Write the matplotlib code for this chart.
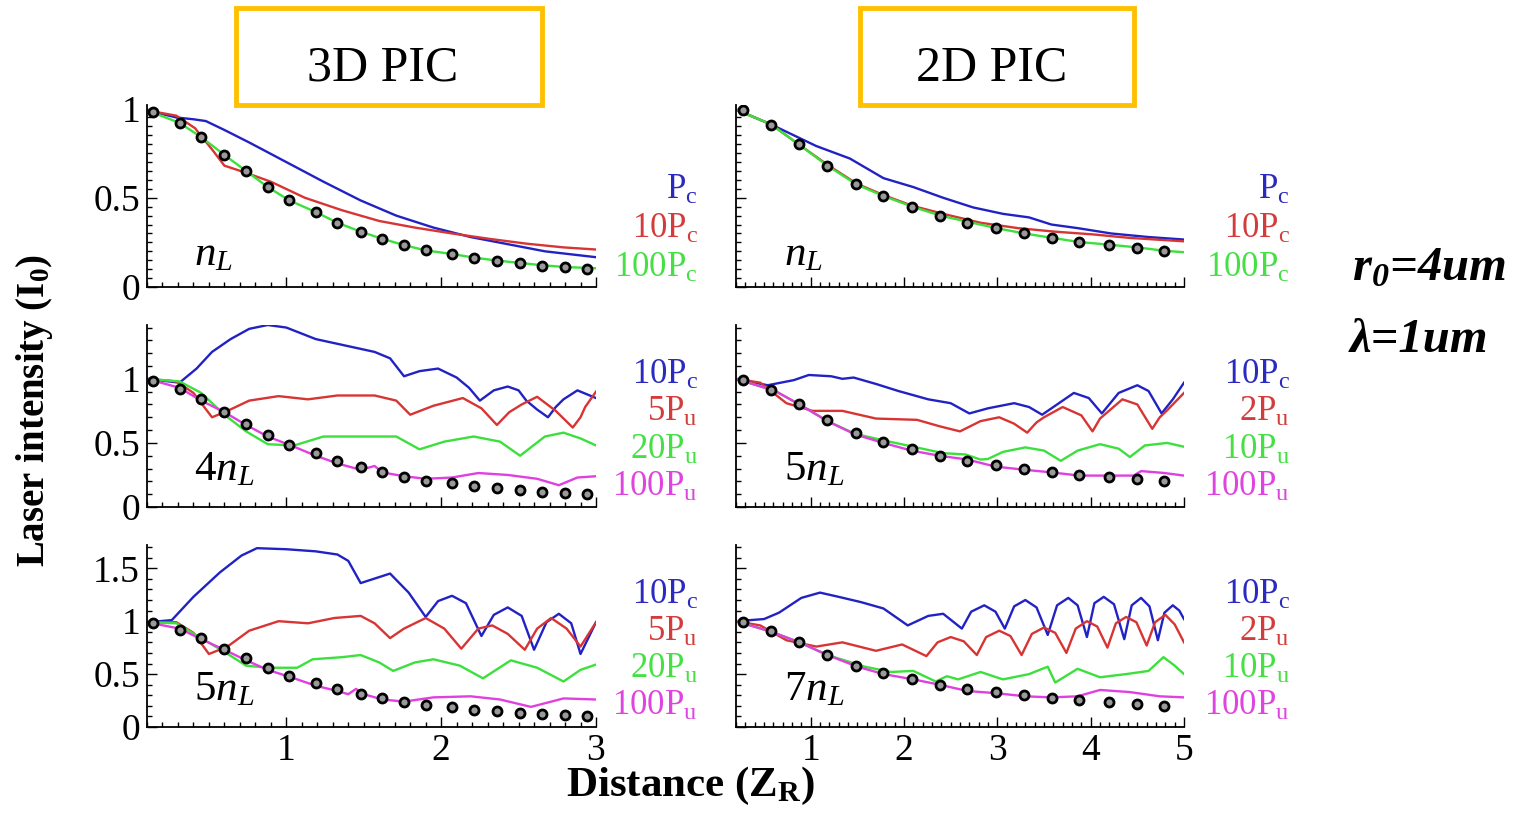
import matplotlib
matplotlib.use("Agg")
import matplotlib.pyplot as plt
from matplotlib.patches import Rectangle
from matplotlib.ticker import MultipleLocator

plt.rcParams["font.family"] = "serif"
plt.rcParams["font.serif"] = ["Liberation Serif", "DejaVu Serif"]
plt.rcParams["mathtext.fontset"] = "custom"
plt.rcParams["mathtext.rm"] = "Liberation Serif"
plt.rcParams["mathtext.it"] = "Liberation Serif:italic"
plt.rcParams["mathtext.bf"] = "Liberation Serif:bold"

# ---------------- data ----------------
# vacuum diffraction reference (dots)
x3_vac = [0.14, 0.31, 0.45, 0.60, 0.74, 0.88, 1.02, 1.19, 1.33, 1.48,
          1.62, 1.76, 1.90, 2.07, 2.21, 2.36, 2.51, 2.65, 2.80, 2.94]
i3_vac = [0.98, 0.92, 0.84, 0.74, 0.65, 0.56, 0.485, 0.42, 0.36, 0.31,
          0.27, 0.235, 0.205, 0.185, 0.165, 0.148, 0.135, 0.12, 0.11, 0.10]
x2_vac = [0.27, 0.58, 0.87, 1.18, 1.49, 1.78, 2.09, 2.39, 2.68, 2.99,
          3.29, 3.59, 3.88, 4.20, 4.50, 4.79]
i2_vac = [0.99, 0.91, 0.80, 0.68, 0.575, 0.51, 0.45, 0.40, 0.36, 0.33,
          0.30, 0.275, 0.252, 0.235, 0.22, 0.203]

# 3D PIC, n_L
x3a_pc = [0.10, 0.29, 0.40, 0.48, 0.60, 0.76, 1.00, 1.24, 1.48, 1.71, 1.95, 2.19, 2.43, 2.67, 3.00]
i3a_pc = [0.99, 0.95, 0.94, 0.93, 0.88, 0.81, 0.70, 0.59, 0.485, 0.40, 0.333, 0.28, 0.24, 0.20, 0.167]
x3a_10pc = [0.10, 0.29, 0.41, 0.53, 0.60, 0.74, 0.90, 1.12, 1.36, 1.60, 1.83, 2.07, 2.31, 2.55, 2.79, 3.00]
i3a_10pc = [0.99, 0.96, 0.89, 0.76, 0.68, 0.64, 0.59, 0.50, 0.43, 0.37, 0.333, 0.30, 0.27, 0.243, 0.222, 0.21]
x3a_100pc = [0.10, 0.31, 0.45, 0.60, 0.74, 0.88, 1.02, 1.19, 1.33, 1.48, 1.62, 1.76, 1.90,
             2.07, 2.21, 2.36, 2.51, 2.65, 2.80, 3.00]
i3a_100pc = [0.99, 0.92, 0.84, 0.74, 0.65, 0.56, 0.485, 0.42, 0.36, 0.31, 0.27, 0.235, 0.205,
             0.185, 0.165, 0.148, 0.135, 0.122, 0.112, 0.105]

# 3D PIC, 4 n_L
x3b_10pc = [0.10, 0.31, 0.42, 0.52, 0.64, 0.76, 0.88, 1.00, 1.19, 1.38, 1.57, 1.67, 1.76, 1.86,
            1.98, 2.10, 2.18, 2.25, 2.34, 2.43, 2.50, 2.55, 2.62, 2.69, 2.74, 2.79, 2.88, 3.00]
i3b_10pc = [1.00, 0.97, 1.08, 1.21, 1.31, 1.39, 1.42, 1.40, 1.31, 1.26, 1.21, 1.16, 1.02, 1.06,
            1.08, 1.01, 0.93, 0.83, 0.91, 0.94, 0.91, 0.83, 0.76, 0.70, 0.78, 0.84, 0.91, 0.85]
x3b_5pu = [0.10, 0.29, 0.40, 0.52, 0.62, 0.76, 0.95, 1.14, 1.33, 1.57, 1.71, 1.80, 1.95, 2.14,
           2.26, 2.36, 2.44, 2.52, 2.62, 2.74, 2.85, 2.90, 2.93, 3.00]
i3b_5pu = [1.00, 0.98, 0.89, 0.70, 0.75, 0.83, 0.865, 0.84, 0.87, 0.87, 0.83, 0.72, 0.79, 0.85,
           0.77, 0.64, 0.74, 0.80, 0.86, 0.75, 0.62, 0.70, 0.78, 0.90]
x3b_20pu = [0.10, 0.31, 0.45, 0.60, 0.74, 0.88, 1.05, 1.24, 1.48, 1.71, 1.86, 2.02, 2.21, 2.38,
            2.51, 2.67, 2.79, 2.90, 3.00]
i3b_20pu = [1.00, 0.98, 0.89, 0.72, 0.59, 0.49, 0.48, 0.55, 0.55, 0.55, 0.45, 0.51, 0.55, 0.51,
            0.40, 0.55, 0.58, 0.535, 0.48]
x3b_100pu = [0.10, 0.31, 0.45, 0.60, 0.74, 0.88, 1.05, 1.19, 1.33, 1.48, 1.57, 1.62, 1.76, 1.90,
             2.07, 2.24, 2.43, 2.62, 2.76, 2.88, 3.00]
i3b_100pu = [1.00, 0.93, 0.83, 0.74, 0.64, 0.55, 0.47, 0.40, 0.34, 0.29, 0.32, 0.27, 0.24, 0.22,
             0.23, 0.265, 0.25, 0.22, 0.17, 0.23, 0.24]

# 3D PIC, 5 n_L
x3c_10pc = [0.10, 0.26, 0.40, 0.57, 0.71, 0.81, 1.00, 1.19, 1.33, 1.40, 1.48, 1.67, 1.79, 1.90,
            1.98, 2.07, 2.16, 2.26, 2.34, 2.43, 2.52, 2.60, 2.68, 2.76, 2.84, 2.90, 3.00]
i3c_10pc = [0.99, 1.01, 1.23, 1.46, 1.62, 1.69, 1.68, 1.66, 1.63, 1.57, 1.36, 1.45, 1.27, 1.04,
            1.19, 1.24, 1.17, 0.86, 1.06, 1.13, 1.05, 0.73, 0.99, 1.07, 0.98, 0.69, 0.99]
x3c_5pu = [0.10, 0.29, 0.40, 0.50, 0.62, 0.76, 0.95, 1.14, 1.31, 1.48, 1.57, 1.67, 1.76, 1.90,
           2.02, 2.13, 2.24, 2.33, 2.43, 2.54, 2.62, 2.71, 2.81, 2.90, 3.00]
i3c_5pu = [0.99, 0.99, 0.89, 0.69, 0.76, 0.91, 1.00, 0.98, 1.03, 1.05, 0.98, 0.84, 0.93, 1.03,
           0.93, 0.74, 0.93, 0.96, 0.88, 0.73, 0.93, 1.03, 0.93, 0.76, 0.99]
x3c_20pu = [0.10, 0.29, 0.45, 0.60, 0.74, 0.88, 1.07, 1.17, 1.36, 1.48, 1.60, 1.69, 1.83, 1.95,
            2.12, 2.27, 2.45, 2.62, 2.79, 2.90, 3.00]
i3c_20pu = [0.99, 0.98, 0.84, 0.71, 0.58, 0.56, 0.56, 0.64, 0.66, 0.68, 0.61, 0.53, 0.61, 0.64,
            0.58, 0.46, 0.63, 0.56, 0.43, 0.54, 0.59]
x3c_100pu = [0.10, 0.31, 0.45, 0.60, 0.74, 0.88, 1.05, 1.19, 1.33, 1.40, 1.45, 1.50, 1.62, 1.76,
             1.95, 2.19, 2.38, 2.58, 2.79, 3.00]
i3c_100pu = [0.99, 0.93, 0.83, 0.73, 0.63, 0.54, 0.46, 0.39, 0.34, 0.31, 0.36, 0.31, 0.26, 0.24,
             0.28, 0.29, 0.26, 0.19, 0.27, 0.26]

# 2D PIC, n_L
x2a_pc = [0.22, 0.58, 0.82, 1.06, 1.42, 1.78, 2.10, 2.42, 2.74, 3.06, 3.34, 3.58, 3.86, 4.22, 4.62, 5.00]
i2a_pc = [0.99, 0.91, 0.85, 0.79, 0.72, 0.61, 0.56, 0.50, 0.446, 0.41, 0.39, 0.35, 0.33, 0.30, 0.28, 0.266]
x2a_10pc = [0.22, 0.58, 0.87, 1.18, 1.49, 1.78, 2.09, 2.42, 2.82, 3.22, 3.62, 4.02, 4.42, 5.00]
i2a_10pc = [0.99, 0.91, 0.80, 0.685, 0.58, 0.515, 0.455, 0.41, 0.36, 0.33, 0.31, 0.295, 0.275, 0.256]
x2a_100pc = [0.22, 0.58, 0.87, 1.18, 1.49, 1.78, 2.09, 2.39, 2.68, 2.99, 3.29, 3.59, 3.88, 4.20,
             4.50, 4.79, 5.00]
i2a_100pc = [0.99, 0.91, 0.80, 0.68, 0.575, 0.51, 0.45, 0.40, 0.366, 0.33, 0.30, 0.275, 0.252,
             0.237, 0.222, 0.203, 0.195]

# 2D PIC, 5 n_L
x2b_10pc = [0.20, 0.54, 0.82, 0.98, 1.22, 1.34, 1.46, 1.70, 1.94, 2.26, 2.50, 2.70, 2.90, 3.18,
            3.34, 3.48, 3.62, 3.82, 3.98, 4.12, 4.30, 4.50, 4.62, 4.76, 4.88, 5.00]
i2b_10pc = [1.00, 0.95, 0.99, 1.03, 1.02, 1.00, 1.01, 0.96, 0.905, 0.84, 0.81, 0.73, 0.77, 0.81,
            0.78, 0.72, 0.79, 0.89, 0.85, 0.73, 0.89, 0.95, 0.905, 0.73, 0.84, 0.97]
x2b_2pu = [0.20, 0.46, 0.74, 1.02, 1.34, 1.70, 2.14, 2.38, 2.60, 2.82, 3.02, 3.18, 3.32, 3.42,
           3.50, 3.70, 3.90, 4.02, 4.10, 4.18, 4.34, 4.50, 4.66, 4.74, 4.82, 5.00]
i2b_2pu = [1.00, 0.97, 0.81, 0.75, 0.75, 0.69, 0.68, 0.63, 0.59, 0.67, 0.70, 0.65, 0.58, 0.66,
           0.70, 0.78, 0.715, 0.59, 0.69, 0.74, 0.84, 0.80, 0.61, 0.70, 0.755, 0.89]
x2b_10pu = [0.20, 0.62, 0.88, 1.18, 1.48, 1.78, 2.10, 2.42, 2.66, 2.82, 2.90, 3.06, 3.30, 3.50,
            3.68, 3.86, 4.10, 4.30, 4.42, 4.58, 4.82, 5.00]
i2b_10pu = [1.00, 0.905, 0.80, 0.67, 0.57, 0.52, 0.47, 0.42, 0.41, 0.37, 0.375, 0.43, 0.465, 0.44,
            0.36, 0.44, 0.49, 0.455, 0.39, 0.48, 0.50, 0.47]
x2b_100pu = [0.20, 0.62, 0.88, 1.18, 1.48, 1.78, 2.08, 2.38, 2.68, 2.98, 3.30, 3.58, 3.88, 4.18,
             4.46, 4.54, 4.78, 5.00]
i2b_100pu = [1.00, 0.905, 0.80, 0.67, 0.565, 0.50, 0.44, 0.40, 0.37, 0.315, 0.29, 0.27, 0.245,
             0.245, 0.245, 0.28, 0.266, 0.245]

# 2D PIC, 7 n_L
x2c_10pc = [0.20, 0.50, 0.66, 0.90, 1.10, 1.30, 1.54, 1.78, 2.04, 2.26, 2.42, 2.62, 2.72, 2.86,
            2.98, 3.08, 3.18, 3.30, 3.42, 3.54, 3.64, 3.76, 3.86, 3.96, 4.04, 4.14, 4.25, 4.36,
            4.44, 4.54, 4.63, 4.72, 4.79, 4.88, 4.95, 5.00]
i2c_10pc = [1.00, 1.02, 1.08, 1.22, 1.27, 1.23, 1.18, 1.12, 0.96, 1.05, 1.07, 0.93, 1.09, 1.15,
            1.09, 0.93, 1.14, 1.20, 1.13, 0.87, 1.15, 1.22, 1.15, 0.85, 1.17, 1.23, 1.16, 0.83,
            1.15, 1.22, 1.14, 0.82, 1.08, 1.15, 1.10, 1.02]
x2c_2pu = [0.20, 0.46, 0.74, 1.06, 1.34, 1.70, 1.98, 2.24, 2.36, 2.50, 2.64, 2.78, 2.88, 3.02,
           3.14, 3.26, 3.37, 3.50, 3.62, 3.74, 3.84, 3.96, 4.07, 4.18, 4.27, 4.38, 4.49, 4.60,
           4.69, 4.80, 4.90, 5.00]
i2c_2pu = [1.00, 0.96, 0.82, 0.76, 0.80, 0.72, 0.78, 0.67, 0.80, 0.85, 0.81, 0.68, 0.85, 0.91,
           0.86, 0.68, 0.88, 0.94, 0.89, 0.70, 0.93, 1.00, 0.95, 0.75, 0.98, 1.04, 0.99, 0.77,
           0.99, 1.06, 0.97, 0.80]
x2c_10pu = [0.20, 0.58, 0.88, 1.18, 1.58, 1.86, 2.10, 2.34, 2.46, 2.58, 2.82, 3.06, 3.34, 3.54,
            3.62, 3.86, 4.10, 4.38, 4.62, 4.78, 4.90, 5.00]
i2c_10pu = [1.00, 0.90, 0.80, 0.68, 0.57, 0.52, 0.53, 0.43, 0.48, 0.45, 0.52, 0.45, 0.50, 0.57,
            0.42, 0.55, 0.47, 0.50, 0.53, 0.66, 0.58, 0.50]
x2c_100pu = [0.20, 0.58, 0.88, 1.18, 1.50, 1.78, 2.10, 2.38, 2.68, 2.98, 3.30, 3.58, 3.86, 4.10,
             4.42, 4.74, 5.00]
i2c_100pu = [1.00, 0.90, 0.80, 0.68, 0.57, 0.50, 0.45, 0.40, 0.34, 0.32, 0.29, 0.28, 0.29, 0.35,
             0.33, 0.29, 0.28]

labels_nl = [r"P$_\mathregular{c}$", r"10P$_\mathregular{c}$", r"100P$_\mathregular{c}$"]
labels_3d = [r"10P$_\mathregular{c}$", r"5P$_\mathregular{u}$", r"20P$_\mathregular{u}$", r"100P$_\mathregular{u}$"]
labels_2d = [r"10P$_\mathregular{c}$", r"2P$_\mathregular{u}$", r"10P$_\mathregular{u}$", r"100P$_\mathregular{u}$"]
tags_3d = [r"$n_L$", r"$4n_L$", r"$5n_L$"]
tags_2d = [r"$n_L$", r"$5n_L$", r"$7n_L$"]

# ---------------- layout ----------------
W, H = 1529, 818
COLORS = ["#2222c4", "#d83434", "#3ce03c", "#e040e0"]
TEXT_COLORS = ["#2a2ac0", "#d43c3c", "#44e044", "#e044e0"]

col_left = [147, 736]
col_width = [449, 448]
row_top = [105, 325, 545]
row_h = 182
ylims = [(0, 1.02), (0, 1.42), (0, 1.72)]
yticks = [[0, 0.5, 1], [0, 0.5, 1], [0, 0.5, 1, 1.5]]
label_y = [[190, 229, 268], [375, 412, 450, 487], [595, 632, 669, 706]]
label_right = [698, 1290]
tag_left = [194, 784]
tag_y = [255, 470, 690]


def fx(px):
    return px / W


def fy(py):
    return 1 - py / H


panels = [
    # (col, row, curves, labels, tag)
    (0, 0, [(x3a_pc, i3a_pc), (x3a_10pc, i3a_10pc), (x3a_100pc, i3a_100pc)], labels_nl, tags_3d[0]),
    (0, 1, [(x3b_10pc, i3b_10pc), (x3b_5pu, i3b_5pu), (x3b_20pu, i3b_20pu), (x3b_100pu, i3b_100pu)],
     labels_3d, tags_3d[1]),
    (0, 2, [(x3c_10pc, i3c_10pc), (x3c_5pu, i3c_5pu), (x3c_20pu, i3c_20pu), (x3c_100pu, i3c_100pu)],
     labels_3d, tags_3d[2]),
    (1, 0, [(x2a_pc, i2a_pc), (x2a_10pc, i2a_10pc), (x2a_100pc, i2a_100pc)], labels_nl, tags_2d[0]),
    (1, 1, [(x2b_10pc, i2b_10pc), (x2b_2pu, i2b_2pu), (x2b_10pu, i2b_10pu), (x2b_100pu, i2b_100pu)],
     labels_2d, tags_2d[1]),
    (1, 2, [(x2c_10pc, i2c_10pc), (x2c_2pu, i2c_2pu), (x2c_10pu, i2c_10pu), (x2c_100pu, i2c_100pu)],
     labels_2d, tags_2d[2]),
]

fig = plt.figure(figsize=(W / 100, H / 100), dpi=100)

for col, row, curves, labels, tag in panels:
    x0 = col_left[col]
    ax = fig.add_axes([fx(x0), fy(row_top[row] + row_h), col_width[col] / W, row_h / H])
    for k, (xs, ys) in enumerate(curves):
        ax.plot(xs, ys, color=COLORS[k], lw=1.7, zorder=2, solid_joinstyle="round")
    if col == 0:
        ax.plot(x3_vac, i3_vac, "o", ms=6.5, mfc="#9a9a9a", mec="black", mew=2.0, zorder=3)
        ax.set_xlim(0.1, 3.0)
    else:
        ax.plot(x2_vac, i2_vac, "o", ms=6.5, mfc="#9a9a9a", mec="black", mew=2.0, zorder=3)
        ax.set_xlim(0.2, 5.0)
    ax.xaxis.set_major_locator(MultipleLocator(1))
    ax.xaxis.set_minor_locator(MultipleLocator(0.1))
    ax.set_ylim(*ylims[row])
    ax.set_yticks(yticks[row])
    ax.yaxis.set_minor_locator(MultipleLocator(0.05 if row == 0 else 0.1))
    ax.spines["top"].set_visible(False)
    ax.spines["right"].set_visible(False)
    for s in ("left", "bottom"):
        ax.spines[s].set_linewidth(1.3)
    ax.tick_params(which="both", direction="in", width=1.0, labelsize=27, pad=5)
    ax.tick_params(which="major", length=7)
    ax.tick_params(which="minor", length=3.5)
    if col == 0:
        ax.set_yticklabels([("%g" % t) for t in yticks[row]])
    else:
        ax.set_yticklabels([])
    if row != 2:
        ax.set_xticklabels([])
    ax.patch.set_alpha(0)

    # curve labels at the right of each panel
    for k, lab in enumerate(labels):
        fig.text(fx(label_right[col]), fy(label_y[row][k]), lab, color=TEXT_COLORS[k],
                 fontsize=25, ha="right", va="center")
    fig.text(fx(tag_left[col]), fy(tag_y[row]), tag, fontsize=31, ha="left", va="center")

# axis titles
fig.text(fx(35), fy(410), r"Laser intensity (I$_\mathregular{0}$)", rotation=90,
         fontsize=28, fontweight="bold", ha="center", va="center")
fig.text(fx(690), fy(786), r"Distance (Z$_\mathregular{R}$)", fontsize=31, fontweight="bold",
         ha="center", va="center")

# header boxes
for (bx0, bx1), title, tx in [((236, 542), "3D PIC", 383), ((860, 1134), "2D PIC", 992)]:
    fig.patches.append(Rectangle((fx(bx0), fy(105)), (bx1 - bx0) / W, (105 - 8) / H,
                                 transform=fig.transFigure, fill=False, ec="#ffc000", lw=3.5))
    fig.text(fx(tx), fy(68), title, fontsize=36, ha="center", va="center")

# simulation parameters
fig.text(fx(1352), fy(268), r"$\mathregular{r_0}$=4um", fontsize=35, fontweight="bold",
         style="italic", ha="left", va="center")
fig.text(fx(1350), fy(340), "\u03bb=1um", fontsize=35, fontweight="bold",
         style="italic", ha="left", va="center")

fig.savefig("out.png", dpi=100, facecolor="white")
